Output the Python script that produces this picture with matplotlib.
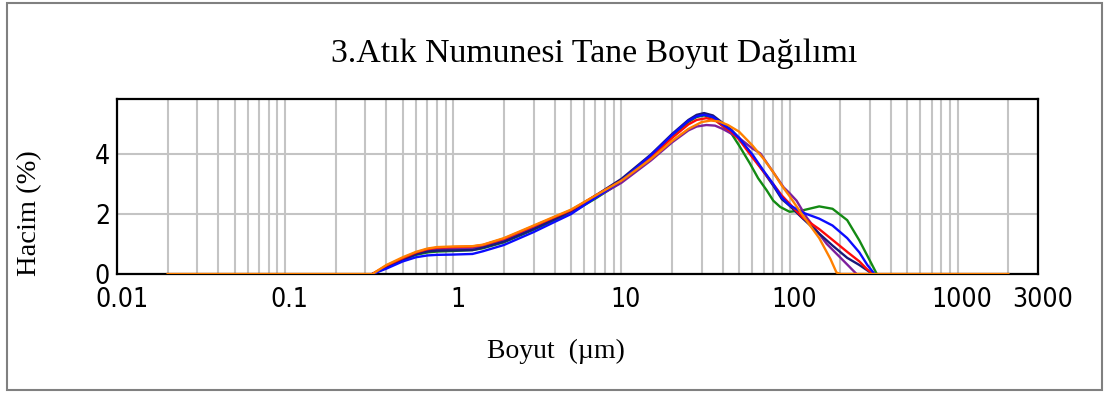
import matplotlib
matplotlib.use("Agg")
import matplotlib.pyplot as plt
import matplotlib.transforms as mtransforms
from matplotlib.patches import Rectangle
from matplotlib.ticker import FixedLocator, NullFormatter, NullLocator
from matplotlib import font_manager as fm

# ---------------- data (particle size in µm, volume %) ----------------
green_x = [0.33, 0.4, 0.5, 0.6, 0.7, 0.8, 1.0, 1.3, 1.5, 2, 3, 4, 5, 7, 10, 15, 20, 25, 28, 31, 35, 40, 45, 50, 58, 65, 73, 80, 88, 100, 120, 150, 180, 220, 260, 300, 330]
green_y = [0, 0.22, 0.47, 0.64, 0.72, 0.75, 0.77, 0.80, 0.86, 1.06, 1.48, 1.80, 2.04, 2.52, 3.08, 3.92, 4.60, 5.08, 5.25, 5.30, 5.22, 4.95, 4.70, 4.30, 3.70, 3.20, 2.80, 2.45, 2.24, 2.08, 2.13, 2.26, 2.18, 1.80, 1.12, 0.45, 0]

purple_x = [0.33, 0.4, 0.5, 0.6, 0.7, 0.8, 1.0, 1.3, 1.5, 2, 3, 4, 5, 7, 10, 15, 20, 25, 28, 32, 36, 40, 50, 60, 67, 80, 92, 100, 110, 126, 166, 218, 250]
purple_y = [0, 0.24, 0.50, 0.68, 0.78, 0.82, 0.85, 0.87, 0.93, 1.13, 1.55, 1.86, 2.08, 2.55, 3.05, 3.80, 4.40, 4.80, 4.93, 4.98, 4.96, 4.85, 4.55, 4.20, 4.03, 3.40, 2.90, 2.70, 2.45, 1.90, 1.01, 0.34, 0]

navy_x = [0.33, 0.4, 0.5, 0.6, 0.7, 0.8, 1.0, 1.3, 1.5, 2, 3, 4, 5, 7, 10, 15, 20, 25, 28, 31, 35, 40, 45, 50, 60, 70, 80, 90, 100, 120, 150, 180, 220, 260, 290, 310]
navy_y = [0, 0.22, 0.48, 0.66, 0.75, 0.78, 0.79, 0.80, 0.88, 1.08, 1.50, 1.83, 2.10, 2.62, 3.18, 4.00, 4.68, 5.15, 5.32, 5.38, 5.30, 5.05, 4.82, 4.55, 3.95, 3.42, 2.95, 2.50, 2.28, 1.85, 1.35, 0.95, 0.54, 0.30, 0.12, 0]

red_x = [0.33, 0.4, 0.5, 0.6, 0.7, 0.8, 1.0, 1.3, 1.5, 2, 3, 4, 5, 7, 10, 15, 20, 25, 28, 32, 36, 40, 45, 50, 60, 70, 80, 90, 100, 120, 150, 180, 220, 260, 290, 315]
red_y = [0, 0.28, 0.53, 0.72, 0.83, 0.88, 0.90, 0.92, 0.97, 1.18, 1.60, 1.90, 2.13, 2.62, 3.12, 3.90, 4.55, 5.00, 5.15, 5.21, 5.14, 4.95, 4.75, 4.50, 3.90, 3.42, 3.00, 2.62, 2.35, 1.88, 1.50, 1.14, 0.74, 0.42, 0.15, 0]

blue_x = [0.33, 0.4, 0.5, 0.6, 0.7, 0.8, 1.0, 1.3, 1.5, 2, 3, 4, 5, 7, 10, 15, 20, 25, 28, 31, 35, 40, 45, 50, 60, 70, 80, 90, 100, 120, 150, 180, 220, 260, 290, 320]
blue_y = [0, 0.18, 0.42, 0.56, 0.62, 0.64, 0.65, 0.67, 0.76, 0.97, 1.40, 1.74, 2.00, 2.55, 3.12, 3.98, 4.65, 5.12, 5.27, 5.32, 5.25, 5.00, 4.80, 4.55, 4.00, 3.45, 3.00, 2.55, 2.30, 2.05, 1.85, 1.62, 1.20, 0.72, 0.30, 0]

orange_x = [0.02, 0.33, 0.4, 0.5, 0.6, 0.7, 0.8, 1.0, 1.3, 1.5, 2, 3, 4, 5, 7, 10, 15, 20, 25, 30, 34, 38, 43, 50, 60, 70, 80, 90, 100, 120, 150, 175, 190, 200, 2000]
orange_y = [0, 0, 0.30, 0.56, 0.74, 0.85, 0.90, 0.92, 0.93, 0.98, 1.20, 1.62, 1.92, 2.15, 2.62, 3.12, 3.85, 4.45, 4.85, 5.08, 5.13, 5.10, 4.98, 4.76, 4.30, 3.85, 3.40, 2.95, 2.60, 1.95, 1.20, 0.50, 0.05, 0, 0]

x_major = [0.01, 0.1, 1, 10, 100, 1000, 3000]
x_labels = ["0.01", "0.1", "1", "10", "100", "1000", "3000"]
y_major = [0, 2, 4]
y_labels = ["0", "2", "4"]

title_text = "3.Atık Numunesi Tane Boyut Dağılımı"
xlabel_text = "Boyut  (µm)"
ylabel_text = "Hacim (%)"

series = [
    (green_x, green_y, "#138a13"),
    (purple_x, purple_y, "#7d1f9c"),
    (navy_x, navy_y, "#1a1a7a"),
    (red_x, red_y, "#ff0a0a"),
    (blue_x, blue_y, "#0c0cff"),
    (orange_x, orange_y, "#ff8000"),
]

# ---------------- figure ----------------
W, H = 1104, 396
fig = plt.figure(figsize=(W / 100, H / 100), dpi=100)
fig.patch.set_facecolor("white")

# outer frame
fig.patches.append(Rectangle((7 / W, 6 / H), (1102 - 7) / W, (393 - 6) / H,
                             transform=fig.transFigure, fill=False,
                             edgecolor="#808080", linewidth=1.5))

L, R, T, B = 117, 1038, 99, 274
ax = fig.add_axes([L / W, (H - B) / H, (R - L) / W, (B - T) / H])
ax.set_xscale("log")
ax.set_xlim(0.01, 3000)
ax.set_ylim(0, 5.85)

vgrid = []
for d in [0.01, 0.1, 1, 10, 100, 1000]:
    for k in range(1, 10):
        v = d * k
        if v <= 3000:
            vgrid.append(v)
for v in vgrid:
    ax.axvline(v, color="#c4c4c4", lw=1.5, zorder=1)
for v in y_major:
    ax.axhline(v, color="#c4c4c4", lw=1.5, zorder=1)

for sx, sy, c in series:
    ax.plot(sx, sy, color=c, lw=1.7, zorder=4, solid_joinstyle="round")

for s in ax.spines.values():
    s.set_color("black")
    s.set_linewidth(1.6)
    s.set_zorder(3)

# pick a condensed sans font if one is installed
TS = 19
tick_fp = fm.FontProperties(family="DejaVu Sans", stretch="condensed", size=TS)
for cand in ["Liberation Sans Narrow", "DejaVu Sans Condensed"]:
    try:
        path = fm.findfont(fm.FontProperties(family=cand), fallback_to_default=False)
        tick_fp = fm.FontProperties(fname=path, size=TS)
        break
    except Exception:
        pass
else:
    for f in fm.fontManager.ttflist:
        if f.name == "DejaVu Sans" and "ondensed" in f.fname and f.weight in (400, "normal") \
                and f.style == "normal":
            tick_fp = fm.FontProperties(fname=f.fname, size=TS)
            break

ax.xaxis.set_major_locator(FixedLocator(x_major))
ax.xaxis.set_minor_locator(NullLocator())
ax.xaxis.set_minor_formatter(NullFormatter())
ax.set_xticks(x_major)
ax.set_xticklabels(x_labels, fontproperties=tick_fp)
ax.set_yticks(y_major)
ax.set_yticklabels(y_labels, fontproperties=tick_fp)
ax.tick_params(axis="both", length=0)
ax.tick_params(axis="x", pad=9.5)
ax.tick_params(axis="y", pad=5)

offset = mtransforms.ScaledTranslation(4.5 / 100, 0, fig.dpi_scale_trans)
for lab in ax.get_xticklabels():
    lab.set_transform(lab.get_transform() + offset)

serif = ["Liberation Serif", "DejaVu Serif"]
fig.text(594 / W, 1 - 54 / H, title_text, family=serif, fontsize=24.4,
         ha="center", va="center")
fig.text(556 / W, 1 - 351 / H, xlabel_text, family=serif, fontsize=20,
         ha="center", va="center")
fig.text(30 / W, 1 - 213 / H, ylabel_text, family=serif, fontsize=20.5,
         ha="center", va="center", rotation=90)

fig.savefig("out.png", dpi=100, facecolor="white")
